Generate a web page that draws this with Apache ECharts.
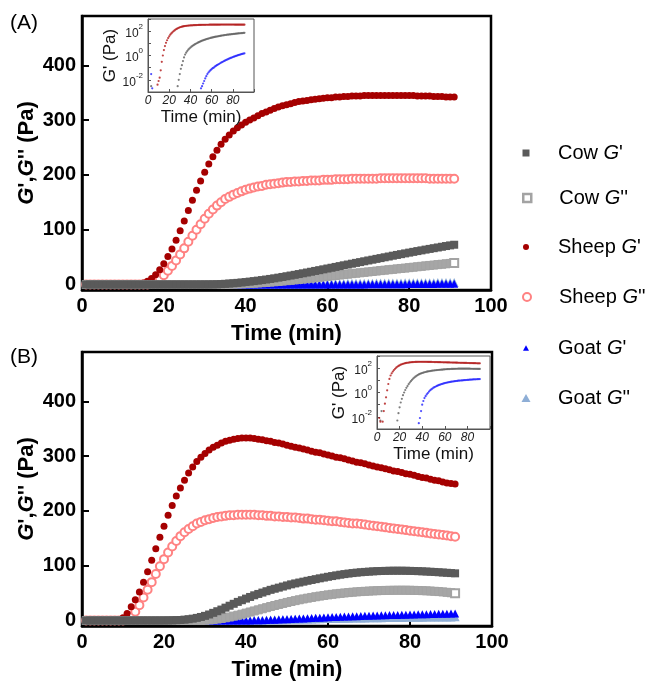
<!DOCTYPE html>
<html>
<head>
<meta charset="utf-8">
<script src="https://cdn.jsdelivr.net/npm/echarts@6/dist/echarts.min.js"></script>
<style>
  html, body { margin: 0; padding: 0; background: #fff; }
  #chart { width: 659px; height: 685px; }
</style>
</head>
<body>
<div id="chart"></div>
<script>
// Gelation time sweep: storage (G') and loss (G'') moduli, sampled once per minute.
const minutes = [
  1, 2, 3, 4, 5, 6, 7, 8, 9, 10,
  11, 12, 13, 14, 15, 16, 17, 18, 19, 20,
  21, 22, 23, 24, 25, 26, 27, 28, 29, 30,
  31, 32, 33, 34, 35, 36, 37, 38, 39, 40,
  41, 42, 43, 44, 45, 46, 47, 48, 49, 50,
  51, 52, 53, 54, 55, 56, 57, 58, 59, 60,
  61, 62, 63, 64, 65, 66, 67, 68, 69, 70,
  71, 72, 73, 74, 75, 76, 77, 78, 79, 80,
  81, 82, 83, 84, 85, 86, 87, 88, 89, 90,
  91
];

// ---- Panel (A) ----
const cowStorageA = [
  0, 0, 0.003, 0, 0, 0, 0, 0, 0, 0,
  0, 0, 0, 0, 0, 0, 0, 0, 0, 0,
  0, 0, 0, 0, 0, 0, 0, 0.003, 0.01, 0.03,
  0.08, 0.16, 0.35, 0.7, 1.2, 1.7, 2.3, 3, 3.7, 4.5,
  5.3, 6.2, 7.1, 8.1, 9.1, 10.2, 11.3, 12.5, 13.8, 15.1,
  16.4, 17.7, 19.1, 20.5, 21.9, 23.3, 24.8, 26.2, 27.7, 29.2,
  30.6, 32.1, 33.6, 35.1, 36.5, 38, 39.5, 40.9, 42.4, 43.9,
  45.3, 46.8, 48.2, 49.7, 51.1, 52.6, 54, 55.4, 56.8, 58.2,
  59.6, 61, 62.3, 63.7, 65, 66.3, 67.6, 68.9, 70.2, 71.4,
  72.6
];
const cowLossA = [
  0, 0, 0, 0, 0, 0, 0, 0, 0, 0,
  0, 0, 0, 0, 0, 0, 0, 0, 0, 0,
  0, 0, 0, 0, 0, 0, 0, 0, 0, 0,
  0, 0, 0, 0, 0.2, 0.4, 0.6, 0.9, 1.2, 1.5,
  1.9, 2.3, 2.8, 3.3, 3.8, 4.4, 5, 5.6, 6.3, 7,
  7.7, 8.5, 9.2, 10, 10.8, 11.6, 12.4, 13.2, 14, 14.9,
  15.7, 16.5, 17.3, 18.1, 18.9, 19.8, 20.6, 21.4, 22.2, 23,
  23.8, 24.6, 25.4, 26.2, 27, 27.7, 28.5, 29.3, 30, 30.8,
  31.6, 32.4, 33.2, 34, 34.8, 35.5, 36.3, 37, 37.8, 38.5,
  39.2
];
const sheepStorageA = [
  0, 0, 0, 0, 0, 0, 0, 0, 0.004, 0.008,
  0.015, 0.06, 0.3, 1, 2.8, 6, 11, 18, 27, 38,
  51, 65, 81, 98, 116, 135, 154, 172, 189, 205,
  220, 233, 245, 256, 265, 273, 280, 286, 291, 296,
  300, 304, 308, 312, 315, 318, 321, 324, 326, 328,
  330, 332, 334, 335, 336, 337, 338, 339, 340, 341,
  341, 342, 342, 343, 343, 344, 344, 344, 345, 345,
  345, 345, 345, 345, 345, 345, 345, 345, 345, 345,
  345, 344, 344, 344, 344, 343, 343, 343, 342, 342,
  342
];
const sheepLossA = [
  0, 0, 0, 0, 0, 0, 0, 0, 0, 0,
  0, 0, 0, 0, 0, 0, 3, 6, 11, 17,
  25, 34, 44, 55, 66, 78, 89, 100, 110, 120,
  129, 137, 144, 150, 156, 160, 164, 167, 170, 173,
  175, 177, 179, 180, 182, 183, 184, 185, 186, 187,
  187, 188, 188, 189, 189, 190, 190, 190, 191, 191,
  191, 192, 192, 192, 192, 193, 193, 193, 193, 193,
  193, 193, 194, 194, 194, 194, 194, 194, 194, 194,
  194, 194, 194, 194, 193, 193, 193, 193, 193, 193,
  193
];
const goatStorageA = [
  0, 0, 0.03, 0.002, 0, 0, 0, 0, 0, 0,
  0, 0, 0, 0, 0, 0, 0, 0, 0, 0,
  0, 0, 0, 0, 0, 0, 0, 0, 0, 0,
  0, 0, 0, 0, 0, 0, 0, 0, 0, 0,
  0, 0, 0, 0, 0, 0, 0, 0, 0, 0.002,
  0.003, 0.005, 0.008, 0.013, 0.02, 0.03, 0.04, 0.05, 0.062, 0.075,
  0.09, 0.1, 0.12, 0.14, 0.16, 0.18, 0.2, 0.23, 0.26, 0.29,
  0.32, 0.36, 0.4, 0.44, 0.48, 0.53, 0.58, 0.63, 0.68, 0.74,
  0.8, 0.86, 0.92, 0.99, 1.06, 1.13, 1.2, 1.28, 1.36, 1.44,
  1.52
];
const goatLossA = [
  0, 0, 0, 0, 0, 0, 0, 0, 0, 0,
  0, 0, 0, 0, 0, 0, 0, 0, 0, 0,
  0, 0, 0, 0, 0, 0, 0, 0, 0, 0,
  0, 0, 0, 0, 0, 0, 0, 0, 0, 0,
  0.1, 0.15, 0.25, 0.3, 0.4, 0.5, 0.55, 0.65, 0.75, 0.85,
  0.95, 1.05, 1.1, 1.2, 1.3, 1.4, 1.45, 1.55, 1.6, 1.7,
  1.8, 1.85, 1.95, 2, 2.1, 2.15, 2.25, 2.3, 2.4, 2.45,
  2.5, 2.6, 2.65, 2.7, 2.8, 2.85, 2.9, 3, 3.05, 3.1,
  3.15, 3.2, 3.3, 3.35, 3.4, 3.45, 3.5, 3.55, 3.6, 3.65,
  3.7
];

// ---- Panel (B) ----
const cowStorageB = [
  0, 0, 0.005, 0.03, 0, 0, 0, 0, 0, 0,
  0, 0, 0, 0, 0, 0, 0, 0.005, 0.02, 0.06,
  0.15, 0.3, 0.6, 1, 1.6, 2.4, 3.4, 4.8, 6.5, 8.5,
  11, 14, 17, 20, 23.5, 27, 30.5, 34, 37, 40,
  43, 46, 48.5, 51, 53.5, 56, 58, 60, 62, 64,
  66, 67.7, 69.3, 70.9, 72.5, 74, 75.5, 77, 78.4, 79.8,
  81.1, 82.4, 83.6, 84.7, 85.7, 86.6, 87.4, 88.1, 88.7, 89.2,
  89.7, 90.1, 90.4, 90.6, 90.8, 90.9, 90.9, 90.9, 90.8, 90.6,
  90.4, 90.1, 89.8, 89.4, 89, 88.6, 88.1, 87.6, 87.1, 86.6,
  86.1
];
const cowLossB = [
  0, 0, 0, 0, 0, 0, 0, 0, 0, 0,
  0, 0, 0, 0, 0, 0, 0, 0, 0, 0,
  0, 0, 0, 0, 0, 0, 0, 0, 0, 0.5,
  1, 1.8, 2.7, 3.8, 5, 6.4, 8, 9.7, 11.5, 13.5,
  15.5, 17.5, 19.5, 21.5, 23.5, 25.5, 27.4, 29.3, 31.2, 33,
  34.7, 36.3, 37.9, 39.4, 40.8, 42.1, 43.4, 44.6, 45.7, 46.8,
  47.8, 48.7, 49.5, 50.3, 51, 51.7, 52.3, 52.8, 53.3, 53.7,
  54.1, 54.4, 54.7, 54.9, 55.1, 55.2, 55.3, 55.3, 55.3, 55.2,
  55, 54.8, 54.5, 54.2, 53.8, 53.3, 52.8, 52.2, 51.5, 50.7,
  49.9
];
const sheepStorageB = [
  0, 0.008, 0.004, 0, 0.004, 0.03, 0.12, 0.4, 1.5, 5,
  13, 25, 38, 52, 70, 89, 110, 131, 152, 172,
  192, 210, 227, 242, 256, 269, 280, 290, 298, 305,
  311, 316, 320, 324, 327, 329, 331, 332, 333, 333,
  333, 332, 331, 330, 328, 327, 325, 324, 322, 320,
  318, 316, 315, 313, 311, 309, 307, 306, 304, 302,
  300, 298, 297, 295, 293, 291, 289, 288, 286, 284,
  282, 280, 279, 277, 275, 273, 272, 270, 268, 267,
  265, 263, 261, 260, 258, 256, 255, 253, 251, 250,
  249
];
const sheepLossB = [
  0, 0, 0, 0, 0, 0, 0, 0, 0, 0,
  3, 8, 16, 28, 42, 56, 70, 85, 99, 112,
  124, 135, 145, 154, 161, 167, 172, 177, 180, 183,
  185, 187, 189, 190, 191, 192, 192, 193, 193, 193,
  193, 193, 192, 192, 191, 191, 190, 190, 189, 189,
  188, 188, 187, 186, 186, 185, 184, 184, 183, 182,
  181, 181, 180, 179, 178, 177, 177, 176, 175, 174,
  173, 172, 171, 170, 169, 168, 167, 166, 165, 164,
  163, 162, 161, 160, 159, 158, 157, 156, 155, 154,
  153
];
const goatStorageB = [
  0, 0, 0, 0, 0, 0, 0, 0, 0, 0,
  0, 0, 0, 0, 0, 0, 0, 0, 0, 0,
  0, 0, 0, 0, 0, 0, 0, 0, 0, 0,
  0, 0, 0, 0, 0, 0, 0.003, 0.008, 0.03, 0.1,
  0.2, 0.35, 0.5, 0.7, 0.9, 1.2, 1.5, 1.8, 2.1, 2.5,
  2.8, 3.1, 3.5, 3.8, 4.2, 4.5, 4.9, 5.2, 5.6, 5.9,
  6.2, 6.6, 6.9, 7.2, 7.4, 7.7, 8, 8.3, 8.5, 8.8,
  9, 9.3, 9.5, 9.7, 9.9, 10.1, 10.3, 10.5, 10.7, 10.9,
  11.1, 11.3, 11.5, 11.6, 11.8, 12, 12.2, 12.3, 12.5, 12.6,
  12.8
];
const goatLossB = [
  0, 0, 0, 0, 0, 0, 0, 0, 0, 0,
  0, 0, 0, 0, 0, 0, 0, 0, 0, 0,
  0, 0, 0, 0, 0, 0, 0, 0, 0, 0,
  0, 0, 0, 0, 0, 0, 0, 0, 0, 0,
  0.2, 0.3, 0.5, 0.6, 0.8, 1, 1.2, 1.4, 1.6, 1.8,
  2, 2.2, 2.4, 2.6, 2.8, 3, 3.1, 3.3, 3.5, 3.6,
  3.8, 3.9, 4.1, 4.2, 4.3, 4.5, 4.6, 4.7, 4.8, 4.9,
  5, 5.1, 5.2, 5.3, 5.4, 5.5, 5.6, 5.7, 5.8, 5.9,
  6, 6, 6.1, 6.2, 6.3, 6.3, 6.4, 6.5, 6.5, 6.6,
  6.7
];

// Axis tick values
const modulusTicks = [0, 100, 200, 300, 400];
const insetTimeLabels = [0, 20, 40, 60, 80];

const FONT = "'Liberation Sans', Arial, Helvetica, sans-serif";

// Marker styles per sample/modulus
const SQUARE = 'path://M0,0L10,0L10,10L0,10Z';
const TRIANGLE = 'path://M5,0L10,9L0,9Z';
const styles = {
  "Cow G'":    { symbol: 'rect', size: 8, item: { color: '#5a5a5a' }, icon: SQUARE, iconSize: 7 },
  "Cow G''":   { symbol: 'rect', size: 8, item: { color: '#a6a6a6', borderColor: '#a3a3a3', borderWidth: 1 }, lastHollow: true,
                 icon: SQUARE, iconSize: 8, iconItem: { color: '#fff', borderColor: '#a3a3a3', borderWidth: 2.5 } },
  "Sheep G'":  { symbol: 'circle', size: 7, item: { color: '#a50000' }, icon: 'circle', iconSize: 6 },
  "Sheep G''": { symbol: 'circle', size: 8, item: { color: '#fff', borderColor: '#ff8282', borderWidth: 2 }, icon: 'circle', iconSize: 8 },
  "Goat G'":   { symbol: 'triangle', size: 8, item: { color: '#0000ff' }, icon: TRIANGLE, iconSize: 6 },
  "Goat G''":  { symbol: 'triangle', size: 9, item: { color: '#8eaed6' }, icon: TRIANGLE, iconSize: 9 }
};
const legendOrder = ["Cow G'", "Cow G''", "Sheep G'", "Sheep G''", "Goat G'", "Goat G''"];
const legendCentres = [153, 198, 247, 297, 348, 398];
const LEGEND_ICON_X = 526;
const LEGEND_TEXT_X = 558;

function mainSeries(name, values, gi) {
  const s = styles[name];
  const data = minutes.map((t, i) => [t, values[i]]);
  if (s.lastHollow) {
    const n = data.length - 1;
    data[n] = { value: data[n], itemStyle: { color: '#fff', borderColor: '#a3a3a3', borderWidth: 2 } };
  }
  return {
    type: 'scatter', name, xAxisIndex: gi, yAxisIndex: gi,
    symbol: s.symbol, symbolSize: s.size, itemStyle: Object.assign({ opacity: 1 }, s.item),
    data, silent: true, clip: true
  };
}

function insetSeries(values, gi, color) {
  return {
    type: 'scatter', xAxisIndex: gi, yAxisIndex: gi, z: 5,
    symbol: 'circle', symbolSize: 2.2, itemStyle: { color },
    data: minutes.map((t, i) => [t, values[i]]).filter(p => p[1] > 0),
    silent: true, clip: true
  };
}

function mainX(gi) {
  return {
    gridIndex: gi, type: 'value', min: 0, max: 100, interval: 20,
    axisLine: { show: true, onZero: false, lineStyle: { color: '#000', width: 2.5 } },
    axisTick: { show: true, inside: true, length: 7, lineStyle: { color: '#000', width: 2 } },
    axisLabel: { fontSize: 20, fontWeight: 'bold', color: '#000', margin: 6, fontFamily: FONT },
    splitLine: { show: false },
    name: 'Time (min)', nameLocation: 'middle', nameGap: 33, nameMoveOverlap: false,
    nameTextStyle: { fontSize: 22, fontWeight: 'bold', color: '#000', fontFamily: FONT }
  };
}

function mainY(gi) {
  return {
    gridIndex: gi, type: 'value', min: -10, max: 490,
    axisLine: { show: true, onZero: false, lineStyle: { color: '#000', width: 2.5 } },
    axisTick: { show: true, inside: true, length: 7, customValues: modulusTicks, lineStyle: { color: '#000', width: 2 } },
    axisLabel: { customValues: modulusTicks, fontSize: 20, fontWeight: 'bold', color: '#000', margin: 6, fontFamily: FONT },
    splitLine: { show: false },
    name: "{i|G}',{i|G}'' (Pa)", nameLocation: 'middle', nameGap: 44, nameMoveOverlap: false,
    nameTextStyle: {
      fontSize: 22, fontWeight: 'bold', color: '#000', fontFamily: FONT,
      rich: { i: { fontSize: 22, fontWeight: 'bold', fontStyle: 'italic', fontFamily: FONT } }
    }
  };
}

function insetX(gi) {
  return {
    gridIndex: gi, type: 'value', min: 0, max: 100, interval: 20, z: 4,
    axisLine: { show: true, onZero: false, lineStyle: { color: '#555', width: 1 } },
    axisTick: { show: true, inside: true, length: 3, lineStyle: { color: '#555' } },
    axisLabel: { customValues: insetTimeLabels, fontSize: 12, fontStyle: 'italic', color: '#222', margin: 3, fontFamily: FONT },
    splitLine: { show: false },
    name: 'Time (min)', nameLocation: 'middle', nameGap: 17,
    nameTextStyle: { fontSize: 17, color: '#111', fontFamily: FONT }
  };
}

function insetY(gi) {
  return {
    gridIndex: gi, type: 'log', logBase: 10, min: 0.001, max: 1000, z: 4,
    axisLine: { show: true, onZero: false, lineStyle: { color: '#555', width: 1 } },
    axisTick: { show: true, inside: true, length: 3, lineStyle: { color: '#555' } },
    axisLabel: {
      margin: 5, color: '#222', fontFamily: FONT,
      formatter: v => {
        const e = Math.round(Math.log10(v));
        if (e % 2 !== 0) return '';
        return '{b|10}{s|' + e + '}';
      },
      rich: {
        b: { fontSize: 12, lineHeight: 17, verticalAlign: 'bottom', color: '#222', fontFamily: FONT },
        s: { fontSize: 8, lineHeight: 9, verticalAlign: 'top', color: '#222', fontFamily: FONT }
      }
    },
    splitLine: { show: false },
    name: "G' (Pa)", nameLocation: 'middle', nameGap: 28,
    nameTextStyle: { fontSize: 17, color: '#111', fontFamily: FONT }
  };
}

// One legend block per entry so each icon keeps its own size while icons and texts line up.
const legends = legendOrder.map((name, k) => {
  const s = styles[name];
  const iconLeft = LEGEND_ICON_X - s.iconSize / 2;
  const gap = LEGEND_TEXT_X - (iconLeft + s.iconSize + 5);
  return {
    left: iconLeft, top: legendCentres[k] - 10, padding: 0, orient: 'vertical',
    itemWidth: s.iconSize, itemHeight: s.iconSize, selectedMode: false,
    data: [{ name, icon: s.icon, itemStyle: Object.assign({}, s.iconItem || s.item) }],
    formatter: n => '{g|}' + n.replace(/G('+)$/, '{i|G}$1'),
    textStyle: {
      fontSize: 20, color: '#000', fontFamily: FONT,
      rich: {
        g: { width: gap, fontSize: 20 },
        i: { fontSize: 20, fontStyle: 'italic', color: '#000', fontFamily: FONT }
      }
    }
  };
});

const chart = echarts.init(document.getElementById('chart'), null, { renderer: 'canvas' });
chart.setOption({
  animation: false,
  backgroundColor: '#fff',
  textStyle: { fontFamily: FONT, color: '#000' },
  title: [
    { text: '(A)', left: 10, top: 13, padding: 0, textStyle: { fontSize: 21, fontWeight: 'normal', color: '#000', fontFamily: FONT } },
    { text: '(B)', left: 10, top: 347, padding: 0, textStyle: { fontSize: 21, fontWeight: 'normal', color: '#000', fontFamily: FONT } }
  ],
  legend: legends,
  grid: [
    { left: 82, top: 16, width: 409, height: 274, show: true, borderColor: '#000', borderWidth: 2.5, backgroundColor: 'transparent' },
    { left: 82, top: 352, width: 410, height: 274, show: true, borderColor: '#000', borderWidth: 2.5, backgroundColor: 'transparent' },
    { left: 148, top: 19, width: 106, height: 73, show: true, borderColor: '#555', borderWidth: 1, backgroundColor: '#fff', z: 3 },
    { left: 377, top: 356, width: 113, height: 73, show: true, borderColor: '#555', borderWidth: 1, backgroundColor: '#fff', z: 3 }
  ],
  xAxis: [mainX(0), mainX(1), insetX(2), insetX(3)],
  yAxis: [mainY(0), mainY(1), insetY(2), insetY(3)],
  series: [
    mainSeries("Goat G''", goatLossA, 0),
    mainSeries("Goat G'", goatStorageA, 0),
    mainSeries("Sheep G''", sheepLossA, 0),
    mainSeries("Sheep G'", sheepStorageA, 0),
    mainSeries("Cow G''", cowLossA, 0),
    mainSeries("Cow G'", cowStorageA, 0),

    mainSeries("Goat G''", goatLossB, 1),
    mainSeries("Goat G'", goatStorageB, 1),
    mainSeries("Sheep G''", sheepLossB, 1),
    mainSeries("Sheep G'", sheepStorageB, 1),
    mainSeries("Cow G''", cowLossB, 1),
    mainSeries("Cow G'", cowStorageB, 1),

    insetSeries(goatStorageA, 2, '#1f1fff'),
    insetSeries(cowStorageA, 2, '#5e5e5e'),
    insetSeries(sheepStorageA, 2, '#b01515'),

    insetSeries(goatStorageB, 3, '#1f1fff'),
    insetSeries(cowStorageB, 3, '#5e5e5e'),
    insetSeries(sheepStorageB, 3, '#b01515')
  ]
});
</script>
</body>
</html>
